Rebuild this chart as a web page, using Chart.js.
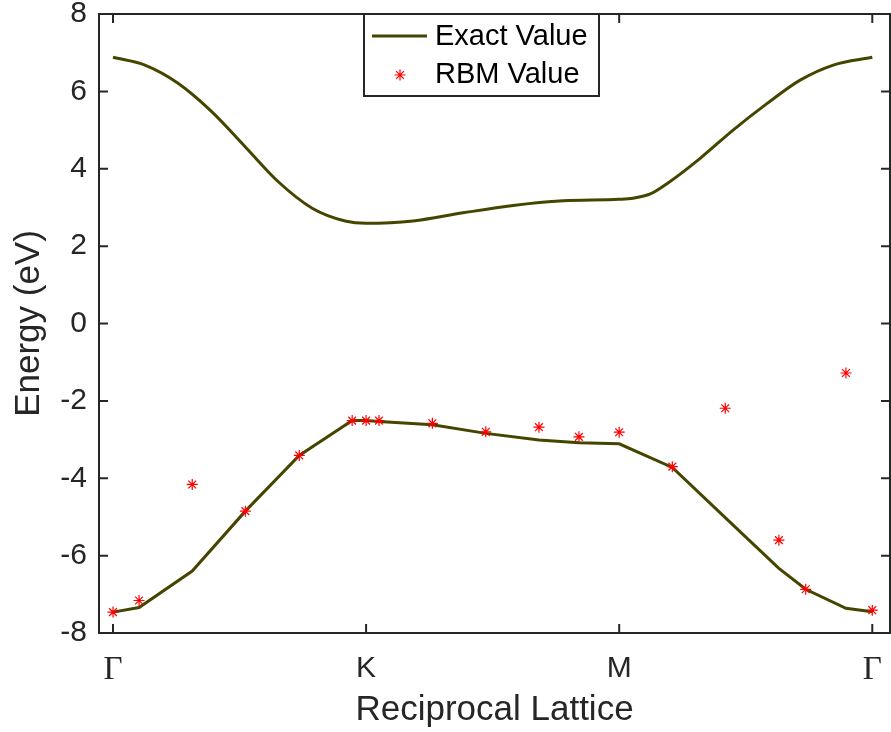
<!DOCTYPE html>
<html>
<head>
<meta charset="utf-8">
<script src="https://cdn.jsdelivr.net/npm/chart.js@4.4.0/dist/chart.umd.min.js"></script>
<style>
  body { margin: 0; background: #fff; }
  canvas { display: block; }
</style>
</head>
<body>
<canvas id="bandChart" width="891" height="732"></canvas>
<script>
// k-path positions (Gamma = 0, K = 1, M = 2, Gamma = 3)
var tickVals = [0, 1, 2, 3];
var tickNames = ["\u0393", "K", "M", "\u0393"];

// upper band (smooth curve)
var kUpper = [0, 0.126, 0.257, 0.391, 0.522, 0.652, 0.787, 0.917, 1.0, 1.186, 1.383, 1.581, 1.779, 2.0, 2.055, 2.123, 2.19, 2.32, 2.45, 2.585, 2.715, 2.846, 3.0];
var exactUpper = [6.88, 6.68, 6.21, 5.47, 4.57, 3.67, 2.98, 2.65, 2.59, 2.65, 2.86, 3.05, 3.17, 3.21, 3.24, 3.35, 3.62, 4.27, 5.0, 5.69, 6.29, 6.68, 6.88];

// lower band, sampled at the same k points as the RBM results
var kLower = [0, 0.103, 0.313, 0.523, 0.736, 0.945, 1.0, 1.051, 1.262, 1.473, 1.683, 1.841, 2.0, 2.21, 2.419, 2.631, 2.737, 2.896, 3.0];
var exactLower = [-7.46, -7.34, -6.40, -4.85, -3.41, -2.51, -2.51, -2.53, -2.62, -2.84, -3.01, -3.08, -3.11, -3.72, -5.02, -6.33, -6.87, -7.36, -7.45];
var rbmLower = [-7.46, -7.16, -4.16, -4.85, -3.41, -2.51, -2.51, -2.51, -2.58, -2.80, -2.68, -2.93, -2.81, -3.70, -2.19, -5.60, -6.87, -1.28, -7.41];

var lineColor = "#454500";
var axisColor = "#262626";
var font = "'Liberation Sans', Arial, Helvetica, sans-serif";

function toPoints(xs, ys) {
  var pts = [];
  for (var i = 0; i < xs.length; i++) {
    pts.push({ x: xs[i], y: ys[i] });
  }
  return pts;
}

/* box, inward ticks and the legend, MATLAB style */
var matlabAxes = {
  id: "matlabAxes",
  afterDraw: function (chart) {
    var ctx = chart.ctx;
    var a = chart.chartArea;
    var xs = chart.scales.x;
    var ys = chart.scales.y;
    var tl = 9;
    ctx.save();
    ctx.strokeStyle = axisColor;
    ctx.lineWidth = 2;
    ctx.strokeRect(a.left, a.top, a.right - a.left, a.bottom - a.top);
    ctx.beginPath();
    ys.ticks.forEach(function (t) {
      var py = ys.getPixelForValue(t.value);
      ctx.moveTo(a.left, py); ctx.lineTo(a.left + tl, py);
      ctx.moveTo(a.right, py); ctx.lineTo(a.right - tl, py);
    });
    tickVals.forEach(function (v) {
      var px = xs.getPixelForValue(v);
      ctx.moveTo(px, a.bottom); ctx.lineTo(px, a.bottom - tl);
      ctx.moveTo(px, a.top); ctx.lineTo(px, a.top + tl);
    });
    ctx.stroke();

    // legend
    var lx = 364, ly = a.top, lw = 235, lh = 82;
    ctx.fillStyle = "#fff";
    ctx.fillRect(lx, ly, lw, lh);
    ctx.strokeRect(lx, ly, lw, lh);
    ctx.strokeStyle = lineColor;
    ctx.lineWidth = 3;
    ctx.beginPath();
    ctx.moveTo(lx + 8, ly + 22);
    ctx.lineTo(lx + 63, ly + 22);
    ctx.stroke();
    ctx.strokeStyle = "#ff0000";
    ctx.lineWidth = 1.2;
    Chart.helpers.drawPoint(ctx, { pointStyle: "star", radius: 5.5, rotation: 0, borderWidth: 1.2 }, lx + 36, ly + 61);
    ctx.fillStyle = "#000";
    ctx.font = "29px " + font;
    ctx.textBaseline = "middle";
    ctx.textAlign = "left";
    ctx.fillText(chart.data.datasets[1].label, lx + 71, ly + 23);
    ctx.fillText(chart.data.datasets[0].label, lx + 71, ly + 61);
    ctx.restore();
  }
};

var ctx0 = document.getElementById("bandChart");
var bandChart = new Chart(ctx0, {
  type: "scatter",
  data: {
    datasets: [
      {
        label: "RBM Value",
        data: toPoints(kLower, rbmLower),
        pointStyle: "star",
        pointRadius: 5.5,
        borderColor: "#ff0000",
        backgroundColor: "#ff0000",
        pointBorderWidth: 1.2,
        order: 0
      },
      {
        label: "Exact Value",
        data: toPoints(kUpper, exactUpper),
        showLine: true,
        borderColor: lineColor,
        borderWidth: 3,
        pointRadius: 0,
        cubicInterpolationMode: "monotone",
        order: 1
      },
      {
        label: "Exact Value (lower)",
        data: toPoints(kLower, exactLower),
        showLine: true,
        borderColor: lineColor,
        borderWidth: 3,
        pointRadius: 0,
        tension: 0,
        order: 1
      }
    ]
  },
  options: {
    responsive: false,
    animation: false,
    layout: { autoPadding: false, padding: { top: 14, right: 1, left: 0, bottom: 0 } },
    plugins: {
      legend: { display: false },
      tooltip: { enabled: false }
    },
    scales: {
      x: {
        type: "linear",
        min: -0.0553,
        max: 3.07,
        grid: { display: false, drawTicks: false },
        border: { display: false },
        afterBuildTicks: function (scale) {
          scale.ticks = tickVals.map(function (v) { return { value: v }; });
        },
        afterFit: function (scale) {
          scale.height = 99;
          scale.paddingLeft = 0;
          scale.paddingRight = 0;
        },
        ticks: {
          padding: 18,
          color: axisColor,
          maxRotation: 0,
          autoSkip: false,
          callback: function (value) {
            var i = tickVals.indexOf(value);
            return i >= 0 ? tickNames[i] : "";
          },
          font: function (c) {
            var isGamma = c.tick && tickNames[tickVals.indexOf(c.tick.value)] === "\u0393";
            return { family: isGamma ? "'Liberation Serif', 'DejaVu Serif', serif" : font, size: isGamma ? 33 : 30 };
          }
        },
        title: {
          display: true,
          text: "Reciprocal Lattice",
          color: axisColor,
          font: { family: font, size: 35, lineHeight: 1.2 },
          padding: { top: 0, bottom: 1 }
        }
      },
      y: {
        min: -8,
        max: 8,
        grid: { display: false, drawTicks: false },
        border: { display: false },
        afterFit: function (scale) {
          scale.width = 99;
          scale.paddingTop = 0;
          scale.paddingBottom = 0;
        },
        ticks: {
          stepSize: 2,
          padding: 12,
          color: axisColor,
          font: { family: font, size: 30 }
        },
        title: {
          display: true,
          text: "Energy (eV)",
          color: axisColor,
          font: { family: font, size: 35, lineHeight: 1.2 },
          padding: { top: 8, bottom: 0 }
        }
      }
    }
  },
  plugins: [matlabAxes]
});
</script>
</body>
</html>
